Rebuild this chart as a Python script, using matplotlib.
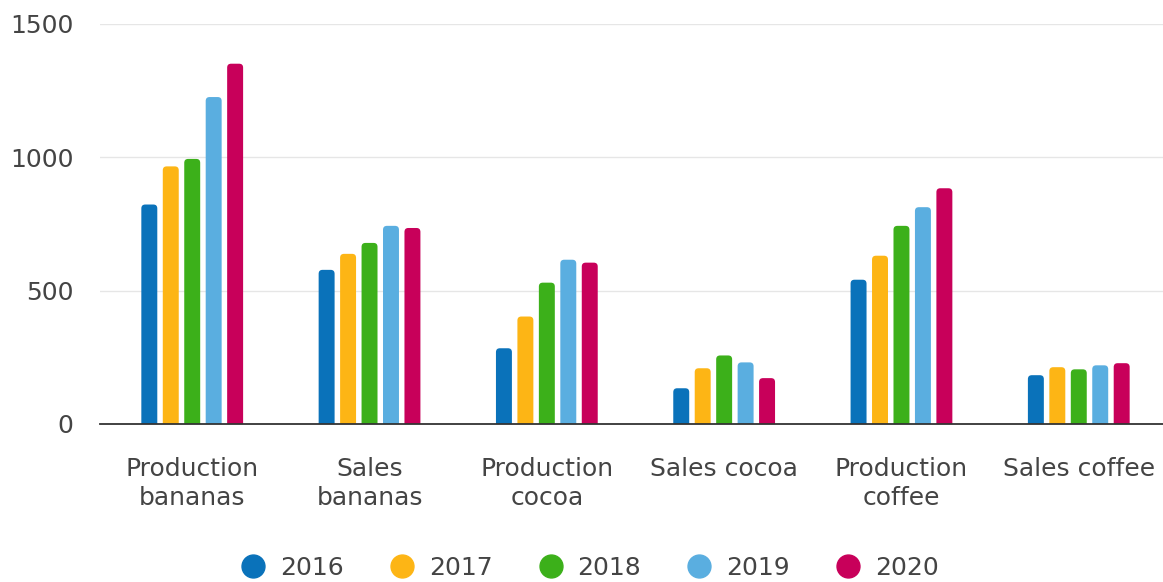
import matplotlib.pyplot as plt
import numpy as np
from matplotlib.patches import FancyBboxPatch
from matplotlib.lines import Line2D

categories = ["Production\nbananas", "Sales\nbananas", "Production\ncocoa",
              "Sales cocoa", "Production\ncoffee", "Sales coffee"]
years = ["2016", "2017", "2018", "2019", "2020"]
v2016 = [823, 578, 284, 134, 541, 183]
v2017 = [966, 638, 403, 209, 631, 213]
v2018 = [994, 679, 530, 257, 743, 205]
v2019 = [1226, 743, 616, 231, 813, 220]
v2020 = [1351, 735, 605, 172, 884, 228]
series = [v2016, v2017, v2018, v2019, v2020]
colors = ["#0a72ba", "#fdb515", "#3cb01a", "#5aaee0", "#c8005a"]

text_color = "#444444"
fs = 18
plt.rcParams['font.family'] = ['DejaVu Sans']

fig = plt.figure(figsize=(11.63, 5.82), dpi=100)
ax = fig.add_axes([0.086, 0.2715, 0.914, 0.6873])

x = np.arange(len(categories))
step = 0.121
width = 0.09
# rounded tops: radius in data units, aspect fixes the ellipse
r_x = 0.022
aspect = (1500 / 400) / (6.0 / 1063)

for i, (vals, c) in enumerate(zip(series, colors)):
    bars = ax.bar(x + (i - 2) * step, vals, width, color=c)
    for b in bars:
        b.set_visible(False)
        p = FancyBboxPatch((b.get_x(), -r_x * aspect), b.get_width(),
                           b.get_height() + r_x * aspect,
                           boxstyle=f"round,pad=0,rounding_size={r_x}",
                           mutation_aspect=aspect,
                           facecolor=c, edgecolor="none", zorder=2)
        ax.add_patch(p)

ax.set_xlim(-0.52, 5.475)
ax.set_ylim(0, 1500)
ax.set_yticks([0, 500, 1000, 1500])
ax.grid(axis="y", color="#e6e6e6", linewidth=1)
ax.set_axisbelow(True)
for s in ["top", "right", "left"]:
    ax.spines[s].set_visible(False)
ax.spines["bottom"].set_color("#333333")
ax.spines["bottom"].set_linewidth(1.3)
ax.spines["bottom"].set_zorder(3)

ax.set_xticks(x)
ax.set_xticklabels(categories, linespacing=1.25)
ax.tick_params(axis="x", length=0, pad=24, labelsize=fs, labelcolor=text_color)
ax.tick_params(axis="y", length=0, pad=19, labelsize=fs, labelcolor=text_color)

handles = [Line2D([], [], marker="o", linestyle="none", markersize=16.5,
                  markerfacecolor=c, markeredgecolor=c) for c in colors]
fig.legend(handles, years, loc="center", bbox_to_anchor=(0.507, 0.024),
           ncol=5, frameon=False, fontsize=fs, labelcolor=text_color,
           handletextpad=0.58, columnspacing=1.82, handlelength=1.0,
           borderpad=0, borderaxespad=0)

fig.savefig("out.png", dpi=100)
